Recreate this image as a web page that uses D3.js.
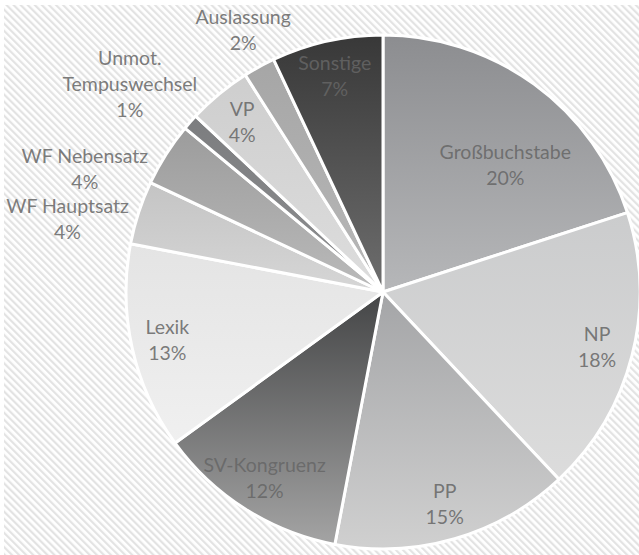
<!DOCTYPE html>
<html>
<head>
<meta charset="utf-8">
<script src="https://cdn.jsdelivr.net/npm/d3@7"></script>
<style>
  html, body { margin: 0; padding: 0; background: #ffffff; }
  svg { display: block; }
  text { font-family: Lato, "Open Sans", sans-serif; }
</style>
</head>
<body>
<svg id="chart" width="639" height="555"></svg>
<script>
// Fehlertypen und ihre Anteile (in Prozent), im Uhrzeigersinn ab 12 Uhr
const categories = [
  "Großbuchstabe", "NP", "PP", "SV-Kongruenz", "Lexik",
  "WF Hauptsatz", "WF Nebensatz", "Unmot. Tempuswechsel",
  "VP", "Auslassung", "Sonstige"
];
const shares = [20, 18, 15, 12, 13, 4, 4, 1, 4, 2, 7];

// Beschriftungszeilen je Kategorie
const labelLines = {
  "Unmot. Tempuswechsel": ["Unmot.", "Tempuswechsel"]
};

// Graustufen-Verläufe (oben -> unten) je Segment
const fills = {
  "Großbuchstabe":        ["#8c8d90", "#b6b7b9"],
  "NP":                   ["#cbcccd", "#dcdcdc"],
  "PP":                   ["#a4a5a7", "#d0d0d0"],
  "SV-Kongruenz":         ["#444546", "#a4a4a4"],
  "Lexik":                ["#e4e4e4", "#f0f0f0"],
  "WF Hauptsatz":         ["#c4c4c4", "#d6d6d6"],
  "WF Nebensatz":         ["#9c9c9c", "#bababa"],
  "Unmot. Tempuswechsel": ["#7c7d7f", "#8e8f91"],
  "VP":                   ["#cecece", "#dddddd"],
  "Auslassung":           ["#a6a6a6", "#b8b8b8"],
  "Sonstige":             ["#383838", "#6e6e6e"]
};

// Beschriftungsplatzierung: Radius (Anteil von r) und Winkelversatz (Grad)
const labelPlacement = {
  "Großbuchstabe":        { k: 0.685, da: 8 },
  "WF Hauptsatz":         { k: 1.26, da: -5 },
  "WF Nebensatz":         { k: 1.255, da: -10 },
  "Unmot. Tempuswechsel": { k: 1.275, da: -2 },
  "Auslassung":           { k: 1.155, da: 0.7 }
};

const W = 639, H = 555;
const cx = 383, cy = 292, R = 257;
const textColor = "#666666";
const textOpacity = 0.86;
const fontSize = 19.5, lineGap = 26;

const svg = d3.select("#chart");
const defs = svg.append("defs");

// Schraffierter Hintergrund
const pat = defs.append("pattern")
  .attr("id", "hatch")
  .attr("patternUnits", "userSpaceOnUse")
  .attr("width", 5).attr("height", 5)
  .attr("patternTransform", "rotate(-45)");
pat.append("rect").attr("width", 5).attr("height", 5).attr("fill", "#ffffff");
pat.append("rect").attr("width", 2.2).attr("height", 5).attr("fill", "#e3e3e3");

svg.append("rect")
  .attr("x", 4).attr("y", 5)
  .attr("width", W - 4).attr("height", H - 5)
  .attr("fill", "url(#hatch)");

const data = categories.map((c, i) => ({ name: c, value: shares[i] }));

const pie = d3.pie()
  .value(d => d.value)
  .sort(null)
  .startAngle(0)
  .endAngle(2 * Math.PI);

const arcs = pie(data);
const arc = d3.arc().innerRadius(0).outerRadius(R);

// Verläufe anlegen
arcs.forEach((a, i) => {
  const g = defs.append("linearGradient")
    .attr("id", "grad" + i)
    .attr("x1", 0).attr("y1", 0).attr("x2", 0).attr("y2", 1);
  g.append("stop").attr("offset", "0%").attr("stop-color", fills[a.data.name][0]);
  g.append("stop").attr("offset", "100%").attr("stop-color", fills[a.data.name][1]);
});

const gPie = svg.append("g").attr("transform", `translate(${cx},${cy})`);

gPie.selectAll("path.slice")
  .data(arcs)
  .join("path")
  .attr("class", "slice")
  .attr("d", arc)
  .attr("fill", (d, i) => `url(#grad${i})`)
  .attr("stroke", "#ffffff")
  .attr("stroke-width", 3)
  .attr("stroke-linejoin", "round");

// Beschriftungen
const gLabels = svg.append("g").attr("transform", `translate(${cx},${cy})`);

arcs.forEach(a => {
  const name = a.data.name;
  const p = labelPlacement[name] || { k: 0.86, da: 0 };
  const mid = (a.startAngle + a.endAngle) / 2 + p.da * Math.PI / 180;
  const r = R * p.k;
  const x = Math.sin(mid) * r;
  const y = -Math.cos(mid) * r;
  const lines = (labelLines[name] || [name]).concat([Math.round(a.data.value) + "%"]);
  const y0 = y - (lines.length - 1) * lineGap / 2;
  const t = gLabels.append("text")
    .attr("text-anchor", "middle")
    .attr("fill", textColor)
    .attr("fill-opacity", textOpacity)
    .attr("font-size", fontSize);
  lines.forEach((ln, j) => {
    t.append("tspan")
      .attr("x", x)
      .attr("y", y0 + j * lineGap)
      .attr("dy", "0.35em")
      .text(ln);
  });
});
</script>
</body>
</html>
